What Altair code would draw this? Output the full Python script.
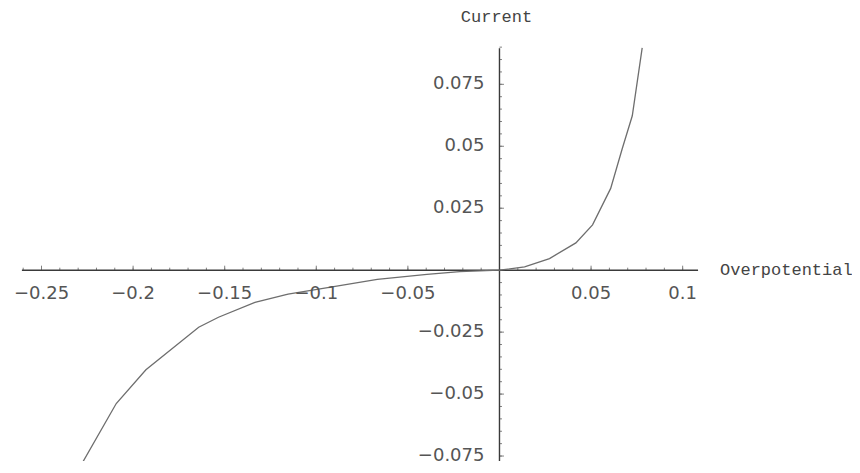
import altair as alt
import pandas as pd
import numpy as np

# ---- data ----
overpotential = [-0.2293, -0.2092, -0.1930, -0.1642, -0.1534, -0.1335, -0.1154, -0.0938,
                 -0.0667, -0.0396, -0.0217, 0.0, 0.0137, 0.0273, 0.0417, 0.0508,
                 0.0607, 0.0670, 0.0725, 0.0779]
current = [-0.0798, -0.0538, -0.0402, -0.0230, -0.0190, -0.0130, -0.0097, -0.0070,
           -0.0037, -0.0017, -0.0006, 0.0, 0.0013, 0.0047, 0.0110, 0.0183,
           0.0330, 0.0490, 0.0623, 0.0897]

x_tick_values = [-0.25, -0.2, -0.15, -0.1, -0.05, 0.05, 0.1]
x_tick_labels = ["\u22120.25", "\u22120.2", "\u22120.15", "\u22120.1", "\u22120.05", "0.05", "0.1"]
y_tick_values = [0.075, 0.05, 0.025, -0.025, -0.05, -0.075]
y_tick_labels = ["0.075", "0.05", "0.025", "\u22120.025", "\u22120.05", "\u22120.075"]
x_minor_values = [round(v, 2) for v in np.arange(-0.26, 0.105, 0.01) if abs(v) > 1e-9]
y_minor_values = [round(v, 3) for v in np.arange(-0.08, 0.0901, 0.005) if abs(v) > 1e-9]

x_axis_extent = [-0.2607, 0.1084]
y_axis_extent = [-0.0800, 0.0896]
x_title = "Overpotential"
y_title = "Current"

# ---- layout ----
W, H = 844, 457
xs = alt.Scale(domain=[-0.26829, 0.18916], nice=False, zero=False)
ys = alt.Scale(domain=[-0.0770, 0.1058], nice=False, zero=False)

AXIS_COLOR = "#3a3a3a"
CURVE_COLOR = "#6e6e6e"
TEXT_COLOR = "#555555"
TICK_COLOR = "#808080"

one = pd.DataFrame({"a": [0]})
curve_df = pd.DataFrame({"eta": overpotential, "i": current})
xt_df = pd.DataFrame({"v": x_tick_values, "t": x_tick_labels})
yt_df = pd.DataFrame({"v": y_tick_values, "t": y_tick_labels})
xm_df = pd.DataFrame({"v": x_minor_values})
ym_df = pd.DataFrame({"v": y_minor_values})

X0 = alt.XDatum(0, scale=xs, type="quantitative")
Y0 = alt.YDatum(0, scale=ys, type="quantitative")

x_axis = alt.Chart(one).mark_rule(color=AXIS_COLOR, strokeWidth=1.4, clip=True).encode(
    x=alt.XDatum(x_axis_extent[0], scale=xs, type="quantitative"),
    x2=alt.datum(x_axis_extent[1]),
    y=Y0,
)
y_axis = alt.Chart(one).mark_rule(color=AXIS_COLOR, strokeWidth=1.4, clip=True).encode(
    x=X0,
    y=alt.YDatum(y_axis_extent[0], scale=ys, type="quantitative"),
    y2=alt.datum(y_axis_extent[1]),
)

x_minor = alt.Chart(xm_df).mark_rule(color=TICK_COLOR, strokeWidth=1, y2Offset=-2.5).encode(
    x=alt.X("v:Q", scale=xs), y=Y0, y2=alt.datum(0))
x_major = alt.Chart(xt_df).mark_rule(color=TICK_COLOR, strokeWidth=1, y2Offset=-4.5).encode(
    x=alt.X("v:Q", scale=xs), y=Y0, y2=alt.datum(0))
y_minor = alt.Chart(ym_df).mark_rule(color=TICK_COLOR, strokeWidth=1, x2Offset=2.5, clip=True).encode(
    y=alt.Y("v:Q", scale=ys), x=X0, x2=alt.datum(0))
y_major = alt.Chart(yt_df).mark_rule(color=TICK_COLOR, strokeWidth=1, x2Offset=4.5).encode(
    y=alt.Y("v:Q", scale=ys), x=X0, x2=alt.datum(0))

line = alt.Chart(curve_df).mark_line(color=CURVE_COLOR, strokeWidth=1.3, clip=True).encode(
    x=alt.X("eta:Q", scale=xs), y=alt.Y("i:Q", scale=ys), order="eta:Q")

x_labels = alt.Chart(xt_df).mark_text(dy=24, baseline="middle", align="center",
                                      font="DejaVu Sans", fontSize=18, color=TEXT_COLOR).encode(
    x=alt.X("v:Q", scale=xs), y=Y0, text="t:N")
y_labels = alt.Chart(yt_df).mark_text(dx=-15, baseline="middle", align="right",
                                      font="DejaVu Sans", fontSize=18, color=TEXT_COLOR).encode(
    y=alt.Y("v:Q", scale=ys), x=X0, text="t:N")

x_title_mark = alt.Chart(one).mark_text(dx=22, align="left", baseline="middle",
                                        font="Liberation Mono", fontSize=17, color="#444444").encode(
    x=alt.XDatum(x_axis_extent[1], scale=xs, type="quantitative"),
    y=Y0,
    text=alt.value(x_title))
y_title_mark = alt.Chart(one).mark_text(dy=-31, dx=-3, align="center", baseline="middle",
                                        font="Liberation Mono", fontSize=17, color="#444444").encode(
    x=X0,
    y=alt.YDatum(y_axis_extent[1], scale=ys, type="quantitative"),
    text=alt.value(y_title))

chart = alt.layer(
    x_minor, x_major, y_minor, y_major, x_axis, y_axis, line,
    x_labels, y_labels, x_title_mark, y_title_mark
).properties(
    width=W, height=H, padding=0, background="#ffffff",
    autosize=alt.AutoSizeParams(type="fit", contains="padding"),
).configure_view(stroke=None).configure_axis(
    domain=False, ticks=False, labels=False, title=None, grid=False
)

chart.save("out.html", embed_options={"renderer": "svg", "actions": False})
